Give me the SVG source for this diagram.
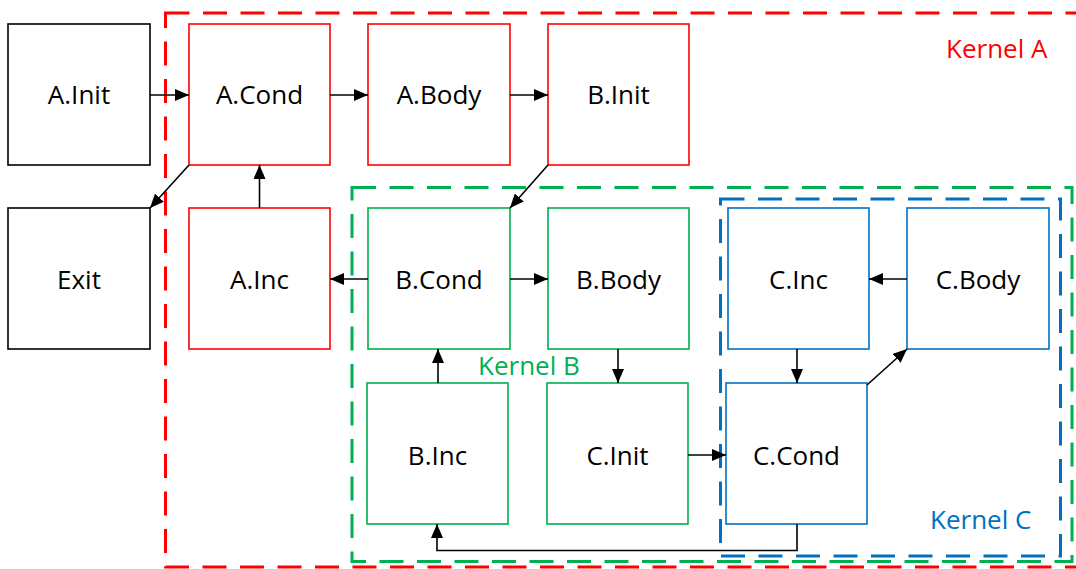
<svg xmlns="http://www.w3.org/2000/svg" width="1076" height="569" viewBox="0 0 1076 569">
<defs>
<marker id="ah" viewBox="0 0 14 12" refX="14" refY="6" markerWidth="14" markerHeight="12" markerUnits="userSpaceOnUse" orient="auto">
<path d="M0,0 L14,6 L0,12 Z" fill="#000"/>
</marker>
<style>
.n{fill:#fff;stroke-width:1.6}
.k{stroke:#000}
.r{stroke:#FF0000}
.g{stroke:#00B050}
.b{stroke:#0070C0}
.t{font-family:"Open Sans","Liberation Sans",sans-serif;font-size:26px;fill:#000;text-anchor:middle}
.kl{font-family:"Open Sans","Liberation Sans",sans-serif;font-size:26px;text-anchor:start}
.d{fill:none;stroke-width:3;stroke-dasharray:24 13.5}
.c{fill:none;stroke:#000;stroke-width:1.6;marker-end:url(#ah)}
</style>
</defs>
<rect width="1076" height="569" fill="#fff"/>
<g id="kernelA"><rect class="d r" x="165.5" y="13" width="916" height="554"/><text class="kl" x="946" y="58" fill="#FF0000">Kernel A</text></g>
<g id="kernelB"><rect class="d g" x="352" y="187.5" width="720" height="374"/><text class="kl" x="478" y="375" fill="#00B050">Kernel B</text></g>
<g id="kernelC"><rect class="d b" x="720.5" y="199" width="340" height="357"/><text class="kl" x="930" y="529" fill="#0070C0">Kernel C</text></g>
<g id="A.Init"><rect class="n k" x="8" y="24" width="142" height="141"/><text class="t" x="79" y="104">A.Init</text></g>
<g id="A.Cond"><rect class="n r" x="189" y="24" width="141" height="141"/><text class="t" x="259.5" y="104">A.Cond</text></g>
<g id="A.Body"><rect class="n r" x="368" y="24" width="142" height="141"/><text class="t" x="439" y="104">A.Body</text></g>
<g id="B.Init"><rect class="n r" x="548" y="24" width="141" height="141"/><text class="t" x="618.5" y="104">B.Init</text></g>
<g id="Exit"><rect class="n k" x="8" y="208" width="142" height="141"/><text class="t" x="79" y="289">Exit</text></g>
<g id="A.Inc"><rect class="n r" x="189" y="208" width="141" height="141"/><text class="t" x="259.5" y="289">A.Inc</text></g>
<g id="B.Cond"><rect class="n g" x="368" y="208" width="142" height="141"/><text class="t" x="439" y="289">B.Cond</text></g>
<g id="B.Body"><rect class="n g" x="548" y="208" width="141" height="141"/><text class="t" x="618.5" y="289">B.Body</text></g>
<g id="C.Inc"><rect class="n b" x="728" y="208" width="141" height="141"/><text class="t" x="798.5" y="289">C.Inc</text></g>
<g id="C.Body"><rect class="n b" x="907" y="208" width="142" height="141"/><text class="t" x="978" y="289">C.Body</text></g>
<g id="B.Inc"><rect class="n g" x="367" y="383" width="141" height="141"/><text class="t" x="437.5" y="465">B.Inc</text></g>
<g id="C.Init"><rect class="n g" x="547" y="383" width="141" height="141"/><text class="t" x="617.5" y="465">C.Init</text></g>
<g id="C.Cond"><rect class="n b" x="726" y="383" width="141" height="141"/><text class="t" x="796.5" y="465">C.Cond</text></g>
<g id="connectors">
<line class="c" x1="150" y1="95" x2="189" y2="95"/>
<line class="c" x1="330" y1="95" x2="368" y2="95"/>
<line class="c" x1="510" y1="95" x2="548" y2="95"/>
<line class="c" x1="189" y1="165" x2="150" y2="208"/>
<line class="c" x1="259.5" y1="208" x2="259.5" y2="165"/>
<line class="c" x1="548" y1="165" x2="510" y2="208"/>
<line class="c" x1="368" y1="279" x2="330" y2="279"/>
<line class="c" x1="510" y1="279" x2="548" y2="279"/>
<line class="c" x1="618" y1="349" x2="618" y2="383"/>
<line class="c" x1="438" y1="383" x2="438" y2="349"/>
<line class="c" x1="688" y1="455" x2="726" y2="455"/>
<line class="c" x1="907" y1="279" x2="869" y2="279"/>
<line class="c" x1="797" y1="349" x2="797" y2="383"/>
<line class="c" x1="867" y1="385" x2="907" y2="349"/>
<polyline class="c" points="797,524 797,550.5 437,550.5 437,524"/>
</g>
</svg>
